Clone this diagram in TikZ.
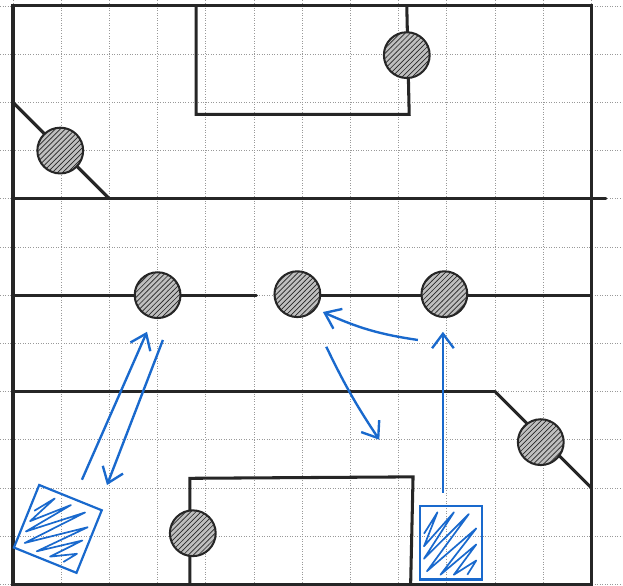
\documentclass[tikz,border=0pt]{standalone}
\usepackage{tikz}
\usetikzlibrary{arrows.meta,patterns}
\definecolor{penblue}{RGB}{25,105,205}
\newcommand{\scribble}{\draw[scrib] (-0.9,0.25) -- (-0.45,0.85) -- (-0.9,-0.1) -- (0.1,0.85) -- (-0.9,-0.45) -- (0.6,0.8) -- (-0.8,-0.8) -- (0.85,0.4) -- (-0.35,-0.9) -- (0.85,-0.05) -- (0.1,-0.9) -- (0.85,-0.5) -- (0.55,-0.9);}

\begin{document}
\begin{tikzpicture}[
    wall/.style={line width=1.8pt, black!85, line cap=round},
    door/.style={circle, draw=black!85, line width=1.2pt, minimum size=0.95cm, inner sep=0pt,
        fill=gray!50, postaction={pattern=north east lines, pattern color=black!85}},
    player/.style={rectangle, draw=penblue, line width=1.3pt, inner sep=0pt},
    scrib/.style={penblue, line width=1pt, line join=round},
    move/.style={-{Straight Barb[length=3mm, width=4.5mm]}, penblue, line width=1.4pt}
]
\useasboundingbox (-0.27,-12.03) rectangle (12.656,0.124);

% Grid paper
\foreach \i in {0,...,12} {
    \draw[densely dotted, black!40, line width=0.5pt] (\i,0.124) -- (\i,-12.03);
    \draw[densely dotted, black!40, line width=0.5pt] (-0.27,-\i) -- (12.656,-\i);
}

% Walls
\draw[wall] (0,0) rectangle (12,-12);
\draw[wall] (0,-4) -- (12.3,-4);
\draw[wall] (0,-6) -- (5.05,-6);
\draw[wall] (5.45,-6) -- (12,-6);
\draw[wall] (0,-8) -- (10,-8);
\draw[wall] (0,-2) -- (2,-4);
\draw[wall] (10,-8) -- (12,-10);
\draw[wall] (3.8,0) -- (3.8,-2.25) -- (8.22,-2.25) -- (8.17,0);
\draw[wall] (3.67,-12) -- (3.67,-9.8) -- (8.3,-9.77) -- (8.25,-12);

% Doors
\node[door] (dtop) at (8.17,-1.02) {};
\node[door] (dleft) at (0.98,-3.0) {};
\node[door] (mid1) at (3,-6) {};
\node[door] (mid2) at (5.9,-5.98) {};
\node[door] (mid3) at (8.95,-5.98) {};
\node[door] (dright) at (10.95,-9.05) {};
\node[door] (dbot) at (3.73,-10.94) {};

% Players
\node[player, minimum size=1.4cm, rotate=-22] (p1) at (0.93,-10.85) {};
\begin{scope}[shift={(p1.center)}, rotate=-22, scale=0.66]
\scribble
\end{scope}
\node[player, minimum width=1.29cm, minimum height=1.53cm] (p2) at (9.085,-11.135) {};
\begin{scope}[shift={(p2.center)}, xscale=0.62, yscale=0.74]
\scribble
\end{scope}

% Moves
\coordinate (a1s) at (1.43,-9.83);
\coordinate (a1e) at (2.78,-6.76);
\coordinate (a2s) at (3.11,-6.93);
\coordinate (a2e) at (1.95,-9.94);
\coordinate (a3s) at (8.4,-6.93);
\coordinate (a3e) at (6.43,-6.35);
\coordinate (a4s) at (6.5,-7.07);
\coordinate (a4e) at (7.6,-9.0);
\coordinate (a5s) at (8.92,-10.1);
\coordinate (a5e) at (8.92,-6.76);

\draw[move] (a1s) -- (a1e);
\draw[move] (a2s) -- (a2e);
\draw[move] (a3s) to[bend left=8] (a3e);
\draw[move] (a4s) to[bend right=4] (a4e);
\draw[move] (a5s) -- (a5e);

\end{tikzpicture}
\end{document}
